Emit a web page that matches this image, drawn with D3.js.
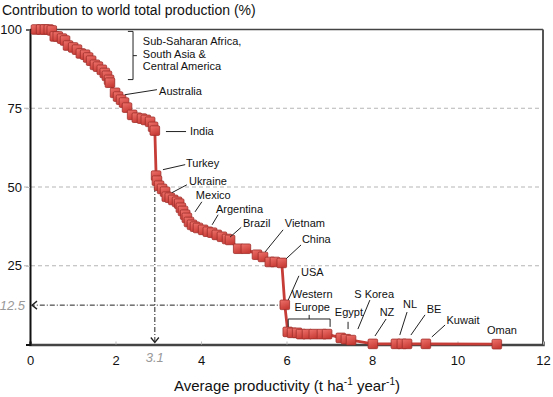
<!DOCTYPE html>
<html>
<head>
<meta charset="utf-8">
<script src="https://cdn.jsdelivr.net/npm/d3@7"></script>
<style>
  body { margin: 0; background: #fff; }
  svg { display: block; font-family: "Liberation Sans", Arial, sans-serif; }
</style>
</head>
<body>
<div id="chart"></div>
<script>
// productivity (t/ha/year) of each country, sorted, and the cumulative share of world production
const productivity = [0.14, 0.26, 0.35, 0.44, 0.51, 0.58, 0.65, 0.75, 0.82, 0.89, 1.01, 1.10, 1.19, 1.29, 1.36, 1.43,
  1.52, 1.59, 1.68, 1.75, 1.80, 1.85, 1.87, 1.99, 2.06, 2.13, 2.20, 2.27, 2.39, 2.50, 2.62, 2.71, 2.81, 2.88, 2.92,
  2.95, 2.97, 3.02, 3.09, 3.16, 3.20, 3.27, 3.35, 3.44, 3.49, 3.53, 3.58, 3.63, 3.67, 3.72, 3.79, 3.86, 3.93, 4.05,
  4.16, 4.26, 4.37, 4.49, 4.61, 4.68, 4.87, 5.05, 5.31, 5.45, 5.61, 5.73, 5.89, 5.96, 6.03, 6.13, 6.25, 6.34, 6.48,
  6.64, 6.83, 6.95, 7.27, 7.39, 7.51, 8.02, 8.56, 8.70, 8.82, 9.26, 10.92]
const share = [100, 100, 100, 100, 99.7, 97.8, 97.8, 97.1, 96.5, 94.9, 94.3, 93.6, 92.4, 92.0, 91.1, 90.1,
  88.8, 88.2, 87.2, 86.2, 85.3, 84.0, 83.1, 79.9, 78.7, 77.7, 76.8, 75.2, 72.9, 72.0, 71.7, 71.3, 70.7, 69.1, 67.9,
  53.6, 52.0, 50.4, 49.4, 48.5, 46.9, 46.6, 45.9, 45.3, 44.7, 43.4, 42.4, 41.2, 40.2, 38.9, 38.0, 37.4, 37.0, 36.4,
  35.8, 35.5, 34.8, 34.2, 33.5, 33.2, 30.4, 30.4, 28.5, 27.8, 26.2, 26.2, 25.9, 12.6, 4.0, 3.7, 3.7, 3.3, 3.3,
  3.3, 3.3, 3.3, 2.1, 1.7, 1.4, 0.2, 0.2, 0.2, 0.2, 0.2, 0.1]

const xTicks = [0, 2, 4, 6, 8, 10, 12]
const yTicks = [25, 50, 75, 100]

// country labels: text anchor (tx, ty) and leader line, all in data units
const countryLabels = [
  { name: "Australia", tx: 3.02, ty: 80.3, anchor: "start", line: [2.22, 79.3, 2.97, 80.9] },
  { name: "India", tx: 3.74, ty: 67.6, anchor: "start", line: [3.18, 67.6, 3.65, 67.6] },
  { name: "Turkey", tx: 3.65, ty: 57.7, anchor: "start", line: [3.11, 55.5, 3.63, 57.1] },
  { name: "Ukraine", tx: 3.72, ty: 52.0, anchor: "start", line: [3.32, 48.2, 3.67, 50.7] },
  { name: "Mexico", tx: 3.88, ty: 47.5, anchor: "start", line: [3.86, 42.1, 4.02, 45.3] },
  { name: "Argentina", tx: 4.35, ty: 43.1, anchor: "start", line: [4.26, 38.0, 4.40, 41.2] },
  { name: "Brazil", tx: 4.98, ty: 38.6, anchor: "start", line: [4.68, 34.1, 4.94, 37.2] },
  { name: "Vietnam", tx: 5.96, ty: 38.6, anchor: "start", line: [5.50, 29.4, 5.92, 36.4] },
  { name: "China", tx: 6.36, ty: 33.5, anchor: "start", line: [5.99, 27.2, 6.34, 31.6] },
  { name: "USA", tx: 6.34, ty: 23.1, anchor: "start", line: [6.04, 14.1, 6.29, 21.8] },
  { name: "Western", tx: 6.60, ty: 16.1, anchor: "middle", line: null },
  { name: "Europe", tx: 6.60, ty: 11.9, anchor: "middle", line: null },
  { name: "Egypt", tx: 7.46, ty: 10.3, anchor: "middle", line: [7.44, 7.2, 7.44, 4.9] },
  { name: "S Korea", tx: 8.05, ty: 16.1, anchor: "middle", line: [7.67, 4.9, 7.95, 14.1] },
  { name: "NZ", tx: 8.35, ty: 10.3, anchor: "middle", line: [8.07, 2.7, 8.33, 8.1] },
  { name: "NL", tx: 8.89, ty: 12.9, anchor: "middle", line: [8.65, 3.0, 8.82, 10.3] },
  { name: "BE", tx: 9.45, ty: 11.3, anchor: "middle", line: [8.91, 3.0, 9.24, 9.4] },
  { name: "Kuwait", tx: 10.13, ty: 7.8, anchor: "middle", line: [9.40, 2.4, 9.71, 6.2] },
  { name: "Oman", tx: 11.04, ty: 4.6, anchor: "middle", line: null }
]
const regionLines = ["Sub-Saharan Africa,", "South Asia &", "Central America"]

const margin = { top: 29.5, right: 10, bottom: 52.5, left: 30 }
const width = 553 - margin.left - margin.right
const height = 397 - margin.top - margin.bottom

const svgRoot = d3.select("#chart")
  .append("svg")
  .attr("width", 553)
  .attr("height", 397)

// gradient for the square markers
const grad = svgRoot.append("defs").append("linearGradient")
  .attr("id", "mk")
  .attr("x1", 0).attr("y1", 0).attr("x2", 0.4).attr("y2", 1)
grad.append("stop").attr("offset", "0%").attr("stop-color", "#ee736c")
grad.append("stop").attr("offset", "100%").attr("stop-color", "#c93c36")

const svg = svgRoot.append("g")
  .attr("transform", `translate(${margin.left},${margin.top})`)

const x = d3.scaleLinear().domain([0, 12]).range([0, width])
const y = d3.scaleLinear().domain([0, 100]).range([height, 0])

// dashed grid lines
svg.selectAll(".grid")
  .data(yTicks.filter(d => d < 100))
  .enter()
  .append("line")
  .attr("x1", -6)
  .attr("x2", width)
  .attr("y1", d => y(d))
  .attr("y2", d => y(d))
  .attr("stroke", "#b5b5b5")
  .attr("stroke-dasharray", "4,3")

// frame
svg.append("line").attr("x1", 0).attr("x2", width).attr("y1", 0).attr("y2", 0)
  .attr("stroke", "#444").attr("stroke-width", 1.5)
svg.append("line").attr("x1", width).attr("x2", width).attr("y1", 0).attr("y2", height)
  .attr("stroke", "#555").attr("stroke-width", 2)

// x axis
const xAxis = svg.append("g")
  .attr("transform", `translate(0,${height})`)
  .call(d3.axisBottom(x).tickValues(xTicks).tickSize(-3).tickPadding(11))
xAxis.select(".domain").attr("stroke", "#444").attr("stroke-width", 2.5)
xAxis.selectAll(".tick line").attr("stroke", "#bbb")
xAxis.selectAll("text").attr("font-size", 13).attr("font-family", "Liberation Sans, Arial, sans-serif").attr("fill", "#111")

// y axis
const yAxis = svg.append("g")
  .call(d3.axisLeft(y).tickValues(yTicks).tickSize(4).tickPadding(4))
yAxis.select(".domain").attr("stroke", "#111").attr("stroke-width", 2)
yAxis.selectAll(".tick line").attr("stroke", "#bbb")
yAxis.selectAll("text").attr("font-size", 13).attr("font-family", "Liberation Sans, Arial, sans-serif").attr("fill", "#111")

// the 12.5 % / 3.1 reading lines
const dashDot = "5,2,1,2"
svg.append("line")
  .attr("x1", x(2.92)).attr("x2", x(2.92))
  .attr("y1", y(50)).attr("y2", y(0) - 2)
  .attr("stroke", "#222").attr("stroke-dasharray", dashDot)
svg.append("line")
  .attr("x1", x(productivity[67])).attr("x2", x(0) + 2)
  .attr("y1", y(12.5)).attr("y2", y(12.5))
  .attr("stroke", "#222").attr("stroke-dasharray", dashDot)
// arrow heads
svg.append("path")
  .attr("d", `M${x(0) + 7},${y(12.5) - 4}L${x(0) + 2},${y(12.5)}L${x(0) + 7},${y(12.5) + 4}`)
  .attr("fill", "none").attr("stroke", "#222").attr("stroke-width", 1.3)
svg.append("path")
  .attr("d", `M${x(2.92) - 4},${y(0) - 7}L${x(2.92)},${y(0) - 2}L${x(2.92) + 4},${y(0) - 7}`)
  .attr("fill", "none").attr("stroke", "#222").attr("stroke-width", 1.3)

svg.append("text")
  .attr("x", x(0) - 5)
  .attr("y", y(12.5))
  .attr("dy", "0.35em")
  .attr("text-anchor", "end")
  .attr("font-size", 13)
  .attr("font-style", "italic")
  .attr("fill", "#999")
  .text("12.5")
svg.append("text")
  .attr("x", x(2.92))
  .attr("y", height + 17)
  .attr("text-anchor", "middle")
  .attr("font-size", 13)
  .attr("font-style", "italic")
  .attr("fill", "#999")
  .text("3.1")

// the curve
const points = productivity.map((p, i) => ({ p: p, s: share[i] }))
svg.append("path")
  .datum(points)
  .attr("fill", "none")
  .attr("stroke", "#c63d38")
  .attr("stroke-width", 2.8)
  .attr("d", d3.line().x(d => x(d.p)).y(d => y(d.s)))

svg.selectAll(".mk")
  .data(points)
  .enter()
  .append("rect")
  .attr("x", d => x(d.p) - 4.8)
  .attr("y", d => y(d.s) - 4.8)
  .attr("width", 9.6)
  .attr("height", 9.6)
  .attr("rx", 1.2)
  .attr("fill", "url(#mk)")
  .attr("stroke", "#9e2f2b")
  .attr("stroke-width", 0.8)

// leader lines and labels
svg.selectAll(".lead")
  .data(countryLabels.filter(d => d.line))
  .enter()
  .append("line")
  .attr("x1", d => x(d.line[0])).attr("y1", d => y(d.line[1]))
  .attr("x2", d => x(d.line[2])).attr("y2", d => y(d.line[3]))
  .attr("stroke", "#222")
  .attr("stroke-width", 1)

svg.selectAll(".lbl")
  .data(countryLabels)
  .enter()
  .append("text")
  .attr("x", d => x(d.tx))
  .attr("y", d => y(d.ty))
  .attr("dy", "0.35em")
  .attr("text-anchor", d => d.anchor)
  .attr("font-size", 11)
  .attr("fill", "#111")
  .text(d => d.name)

// western europe bracket
svg.append("path")
  .attr("d", `M${x(6.04)},${y(5.6)}V${y(8.1)}H${x(7.02)}V${y(5.6)}M${x(6.53)},${y(8.1)}V${y(9.4)}`)
  .attr("fill", "none").attr("stroke", "#222").attr("stroke-width", 1)

// sub-saharan bracket
svg.append("path")
  .attr("d", `M${x(2.29)},${y(99.4)}H${x(2.41)}V${y(84.1)}H${x(2.29)}M${x(2.41)},${y(91.7)}H${x(2.5)}`)
  .attr("fill", "none").attr("stroke", "#222").attr("stroke-width", 1)

svg.selectAll(".reg")
  .data(regionLines)
  .enter()
  .append("text")
  .attr("x", x(2.64))
  .attr("y", (d, i) => y(96.2) + i * 12.5)
  .attr("dy", "0.35em")
  .attr("font-size", 11)
  .attr("fill", "#111")
  .text(d => d)

// titles
svgRoot.append("text")
  .attr("x", 2)
  .attr("y", 15)
  .attr("font-size", 14)
  .attr("fill", "#111")
  .text("Contribution to world total production (%)")

const xl = svgRoot.append("text")
  .attr("x", 287)
  .attr("y", 391)
  .attr("text-anchor", "middle")
  .attr("font-size", 15)
  .attr("fill", "#111")
xl.append("tspan").text("Average productivity (t ha")
xl.append("tspan").attr("dy", -6).attr("font-size", 10).text("-1")
xl.append("tspan").attr("dy", 6).text(" year")
xl.append("tspan").attr("dy", -6).attr("font-size", 10).text("-1")
xl.append("tspan").attr("dy", 6).text(")")
</script>
</body>
</html>
